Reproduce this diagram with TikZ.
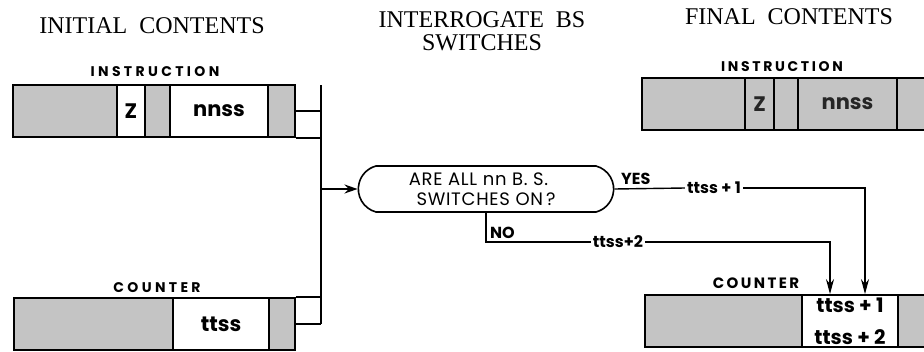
\documentclass[tikz,border=0pt]{standalone}
\usepackage{fontspec}
\setmainfont{Liberation Serif}
\newfontfamily\boxfont{Poppins}
\usetikzlibrary{shapes.misc,arrows.meta,positioning,calc}

\begin{document}
\begin{tikzpicture}[x=1pt, y=-1pt,
    cell/.style={rectangle, draw, line width=1.8pt, inner sep=0pt, minimum height=52pt, font=\boxfont\bfseries\fontsize{21}{21}\selectfont},
    graycell/.style={cell, fill=black!23},
    whitecell/.style={cell, fill=white},
    heading/.style={font=\fontsize{24}{23}\selectfont, align=center},
    regname/.style={font=\boxfont\bfseries\fontsize{14}{14}\selectfont\addfontfeature{LetterSpace=24}},
    tag/.style={font=\boxfont\bfseries\fontsize{16}{16}\selectfont, inner sep=2pt},
    link/.style={line width=1.4pt},
    decision/.style={rounded rectangle, rounded rectangle arc length=150, draw, line width=1.6pt, minimum width=262pt, minimum height=46pt, align=center, font=\boxfont\fontsize{18}{20}\selectfont\addfontfeature{LetterSpace=4}}
]
\useasboundingbox (0,0) rectangle (924,351);
\clip (0,0) rectangle (924,351);

% Headings
\node[heading] (hinit) at (152,26) {INITIAL\ \ CONTENTS};
\node[heading] (hask) at (482,31) {INTERROGATE\ \ BS\\SWITCHES};
\node[heading] (hfinal) at (789,17) {FINAL\ \ CONTENTS};

% Initial instruction
\node[regname] (linstr) at (155,72) {INSTRUCTION};
\foreach \nm/\xa/\xb/\st/\txt in {li1/13/117/graycell/{}, li2/117/145/whitecell/Z, li3/145/170/graycell/{},
    li4/170/268/whitecell/nnss, li5/268/295/graycell/{}} {
    \node[\st, minimum width={(\xb-\xa)*1pt}] (\nm) at ({(\xa+\xb)/2},111) {\txt};
}

% Initial counter
\node[regname] (lcount) at (157,288) {COUNTER};
\foreach \nm/\xa/\xb/\st/\txt in {lc1/14/173/graycell/{}, lc2/173/269/whitecell/ttss, lc3/269/295/graycell/{}} {
    \node[\st, minimum width={(\xb-\xa)*1pt}] (\nm) at ({(\xa+\xb)/2},324) {\txt};
}

% Final instruction
\node[regname, font=\boxfont\bfseries\fontsize{14}{14}\selectfont\addfontfeature{LetterSpace=19}] (rinstr) at (782,67) {INSTRUCTION};
\foreach \nm/\xa/\xb/\txt in {ri1/642/745/{}, ri2/745/774/Z, ri3/774/798/{}, ri4/798/897/nnss, ri5/897/940/{}} {
    \node[graycell, text=black!85, minimum width={(\xb-\xa)*1pt}] (\nm) at ({(\xa+\xb)/2},104) {\txt};
}

% Final counter
\node[regname, font=\boxfont\bfseries\fontsize{15}{15}\selectfont\addfontfeature{LetterSpace=16}] (rcount) at (756,283) {COUNTER};
\node[graycell, minimum width=157pt] (rc1) at (723.5,321) {};
\node[whitecell, minimum width=96pt, align=center, font=\boxfont\bfseries\fontsize{20}{32}\selectfont] (rc2) at (850,321) {ttss + 1\\ttss + 2};
\node[graycell, minimum width=42pt] (rc3) at (919,321) {};

% Gather both registers
\coordinate (bus) at (321,85);
\draw[link] (bus) -- (bus |- lc3.east);
\draw[link] (li5.east) -- (li5.east -| bus);
\draw[link] (li5.south east) -- (li5.south east -| bus);
\draw[link] (lc3.north east) -- (lc3.north east -| bus);
\draw[link] (lc3.east) -- (lc3.east -| bus);

% Test
\node[decision] (ask) at (486,189) {ARE ALL nn B. S.\hspace*{15pt}\\SWITCHES ON\,?};
\draw[link, -{Stealth[length=13pt, width=9pt]}] (bus |- ask.west) -- (ask.west);

% Yes branch
\node[tag, anchor=south west] (yes) at (619,187) {YES};
\node[tag] (plusone) at (714,188) {ttss + 1};
\coordinate (ydown) at (865,188);
\draw[link] (ask.east) -- (plusone.west);
\draw[link, -{Stealth[length=15pt, width=8pt]}] (plusone.east) -- (ydown) -- (ydown |- rc2.north);

% No branch
\coordinate (nbend) at (ask.south |- 0,242);
\node[tag, anchor=south west] (no) at ($(nbend)+(2,-1)$) {NO};
\node[tag] (plustwo) at (618,242) {ttss+2};
\coordinate (ndown) at (830,242);
\draw[link] (ask.south) -- (nbend) -- (plustwo.west);
\draw[link, -{Stealth[length=15pt, width=8pt]}] (plustwo.east) -- (ndown) -- (ndown |- rc2.north);

\end{tikzpicture}
\end{document}
